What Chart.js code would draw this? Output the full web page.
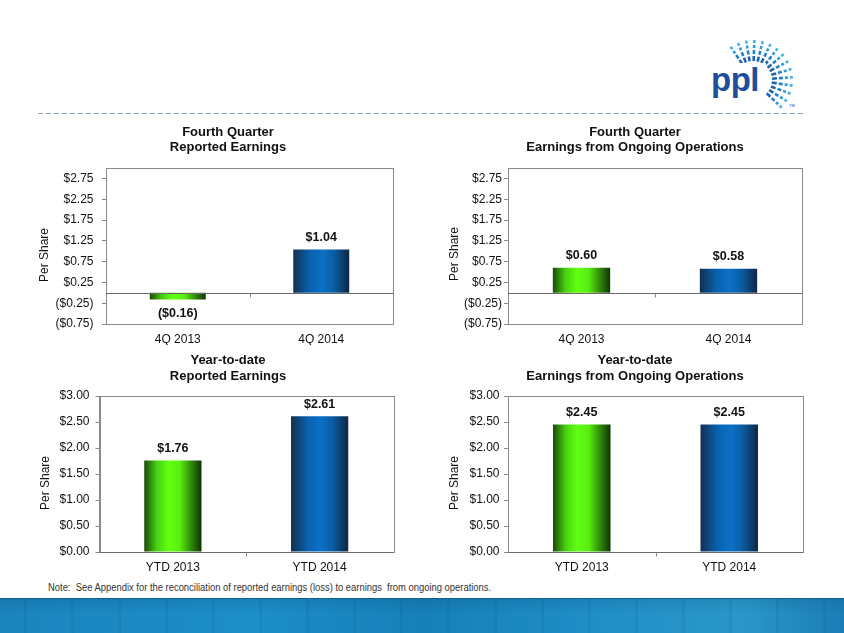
<!DOCTYPE html>
<html><head><meta charset="utf-8">
<script src="https://cdn.jsdelivr.net/npm/chart.js@4.4.1/dist/chart.umd.min.js"></script>
<style>
body{margin:0;width:844px;height:633px;overflow:hidden;background:#fff;position:relative;font-family:"Liberation Sans",Arial,sans-serif}
.box{position:absolute}
#sep{position:absolute;left:38px;top:113px;width:767px;height:1px;background:repeating-linear-gradient(90deg,#8fa3ba 0 5px,rgba(255,255,255,0) 5px 8px)}
#note{position:absolute;left:48px;top:582px;font-size:10px;color:#333;white-space:pre;transform-origin:0 0;transform:scaleX(0.94)}
#banner{position:absolute;left:0;top:598px;width:844px;height:35px;border-top:1px solid #0f5f8f;
background:
linear-gradient(180deg,rgba(0,40,80,0.12) 0,rgba(0,0,0,0) 40%),
repeating-linear-gradient(90deg,rgba(255,255,255,0) 0 24px,rgba(10,70,120,0.10) 24px 27px,rgba(255,255,255,0) 27px 47px),
linear-gradient(90deg,#1b84bd 0%,#1c8ec8 30%,#167fb8 50%,#1f8ec6 70%,#2a97c9 88%,#1b7db6 100%)}
</style></head><body>
<svg class="box" style="left:700px;top:35px" width="110" height="78" id="logo"></svg>
<div id="sep"></div>
<div class="box" style="left:20px;top:120px;width:416px;height:225px"><canvas id="c1"></canvas></div>
<div class="box" style="left:428px;top:120px;width:414px;height:225px"><canvas id="c2"></canvas></div>
<div class="box" style="left:20px;top:350px;width:416px;height:225px"><canvas id="c3"></canvas></div>
<div class="box" style="left:428px;top:350px;width:414px;height:225px"><canvas id="c4"></canvas></div>
<div id="note">Note:  See Appendix for the reconciliation of reported earnings (loss) to earnings  from ongoing operations.</div>
<div id="banner"></div>
<script>
// ---- data ----
const quarterLabels = ['4Q 2013', '4Q 2014'];
const ytdLabels = ['YTD 2013', 'YTD 2014'];
const q4Reported = [-0.16, 1.04];
const q4Ongoing = [0.60, 0.58];
const ytdReported = [1.76, 2.61];
const ytdOngoing = [2.45, 2.45];
const quarterTicks = [-0.75, -0.25, 0.25, 0.75, 1.25, 1.75, 2.25, 2.75];
const ytdTicks = [0, 0.5, 1.0, 1.5, 2.0, 2.5, 3.0];
const quarterRange = [-0.75, 3.0];
const ytdRange = [0, 3.0];
const titleQ4Rep = ['Fourth Quarter', 'Reported Earnings'];
const titleQ4Ong = ['Fourth Quarter', 'Earnings from Ongoing Operations'];
const titleYtdRep = ['Year-to-date', 'Reported Earnings'];
const titleYtdOng = ['Year-to-date', 'Earnings from Ongoing Operations'];
const yAxisTitle = 'Per Share';

// ---- logo ----
(function(){
  const svg = document.getElementById('logo');
  let s = '';
  const cx = 53, cy = 45;
  const n = 15;
  for (let i = 0; i < n; i++) {
    const a = (-124 + i * (168 / (n - 1))) * Math.PI / 180;
    const segs = [[19,24,'#1f64ad'],[26,30,'#2480c6'],[32,35,'#2f9bd9'],[37,40,'#46b2e6']];
    segs.forEach(([r1,r2,c]) => {
      s += `<line x1="${(cx+r1*Math.cos(a)).toFixed(1)}" y1="${(cy+r1*Math.sin(a)).toFixed(1)}" x2="${(cx+r2*Math.cos(a)).toFixed(1)}" y2="${(cy+r2*Math.sin(a)).toFixed(1)}" stroke="${c}" stroke-width="2.6"/>`;
    });
  }
  s += `<rect x="8" y="28" width="58" height="40" fill="#fff"/>`;
  s += `<text x="11" y="56" font-family="Liberation Sans, Arial" font-weight="bold" font-size="33" fill="#1f4f9c" letter-spacing="-0.5">ppl</text>`;
  s += `<text x="89" y="72" font-family="Liberation Sans, Arial" font-size="4" fill="#1f4f9c">TM</text>`;
  svg.innerHTML = s;
})();

// ---- charts ----
const fmt = v => v < 0 ? '($' + Math.abs(v).toFixed(2) + ')' : '$' + v.toFixed(2);

function gradFor(ctx2d, x0, x1, idx) {
  const g = ctx2d.createLinearGradient(x0, 0, x1, 0);
  if (idx === 0) {
    g.addColorStop(0, '#1a4a08'); g.addColorStop(0.22, '#48d012'); g.addColorStop(0.42, '#62ff12');
    g.addColorStop(0.62, '#58ee10'); g.addColorStop(0.85, '#2b7a0a'); g.addColorStop(1, '#0e3504');
  } else {
    g.addColorStop(0, '#12304f'); g.addColorStop(0.3, '#0a62b0'); g.addColorStop(0.52, '#0b70c6');
    g.addColorStop(0.72, '#0a5ea6'); g.addColorStop(1, '#0f2643');
  }
  return g;
}

const panels = [
  {id:'c1', left:20, top:120, w:416, h:225, area:[106,393,168,324], title:titleQ4Rep, labels:quarterLabels, values:q4Reported, ticks:quarterTicks, range:quarterRange, tickPad:8.5, yTitle:[45,255], titleY:[132,147], titleX:228},
  {id:'c2', left:428, top:120, w:414, h:225, area:[508,802,168,324], title:titleQ4Ong, labels:quarterLabels, values:q4Ongoing, ticks:quarterTicks, range:quarterRange, tickPad:2, yTitle:[455,254], titleY:[132,147], titleX:635},
  {id:'c3', left:20, top:350, w:416, h:225, area:[99.5,393,396,552], title:titleYtdRep, labels:ytdLabels, values:ytdReported, ticks:ytdTicks, range:ytdRange, tickPad:6, yTitle:[45.5,483], titleY:[360,376], titleX:228},
  {id:'c4', left:428, top:350, w:414, h:225, area:[508,803,396,552], title:titleYtdOng, labels:ytdLabels, values:ytdOngoing, ticks:ytdTicks, range:ytdRange, tickPad:4.5, yTitle:[455,483], titleY:[360,376], titleX:635}
];

const FONT = "'Liberation Sans', Arial, sans-serif";

panels.forEach(p => {
  const [aL, aR, aT, aB] = p.area;
  const decor = {
    id: 'decor',
    afterDatasetsDraw(chart) {
      const c = chart.ctx, ca = chart.chartArea;
      c.save();
      c.strokeStyle = '#8a8a8a'; c.lineWidth = 1;
      c.strokeRect(Math.round(ca.left) + 0.5, Math.round(ca.top) + 0.5, Math.round(ca.right - ca.left), Math.round(ca.bottom - ca.top));
      const y0 = Math.round(chart.scales.y.getPixelForValue(0)) + 0.5;
      c.strokeStyle = '#6a6a6a';
      c.beginPath(); c.moveTo(ca.left, y0); c.lineTo(ca.right, y0); c.stroke();
      const mx = Math.round((ca.left + ca.right) / 2) + 0.5;
      c.strokeStyle = '#8a8a8a';
      c.beginPath(); c.moveTo(mx, y0); c.lineTo(mx, y0 + 4); c.stroke();
      c.fillStyle = '#111'; c.font = 'bold 12.5px ' + FONT; c.textAlign = 'center'; c.textBaseline = 'middle';
      const meta = chart.getDatasetMeta(0);
      meta.data.forEach((el, i) => {
        const v = p.values[i];
        const ty = v < 0 ? el.y + 14 : el.y - 12;
        c.fillText(fmt(v), el.x, ty);
      });
      c.font = 'bold 13px ' + FONT;
      p.title.forEach((t, i) => c.fillText(t, p.titleX - p.left, p.titleY[i] - p.top));
      c.font = '12px ' + FONT;
      c.translate(p.yTitle[0] - p.left, p.yTitle[1] - p.top);
      c.rotate(-Math.PI / 2);
      c.fillText(yAxisTitle, 0, 0);
      c.restore();
    }
  };
  new Chart(document.getElementById(p.id), {
    type: 'bar',
    data: {
      labels: p.labels,
      datasets: [{
        data: p.values,
        backgroundColor: (ctx) => {
          const ch = ctx.chart;
          if (!ch.chartArea) return '#888';
          const xs = ch.scales.x;
          const cx = xs.getPixelForValue(ctx.dataIndex);
          const bw = (xs.width / p.labels.length) * 0.39;
          return gradFor(ch.ctx, cx - bw / 2, cx + bw / 2, ctx.dataIndex);
        },
        borderWidth: 0,
        barPercentage: 0.39,
        categoryPercentage: 1
      }]
    },
    options: {
      responsive: true, maintainAspectRatio: false, animation: false,
      layout: { padding: { left: 0, right: (p.left + p.w) - aR, top: aT - p.top, bottom: 0 } },
      plugins: { legend: { display: false }, tooltip: { enabled: false }, title: { display: false } },
      scales: {
        x: {
          grid: { display: false },
          border: { display: false },
          ticks: { color: '#111', font: { family: FONT, size: 12 }, padding: 0, maxRotation: 0 },
          afterFit: (s) => { s.height = (p.top + p.h) - aB; }
        },
        y: {
          min: p.range[0], max: p.range[1],
          grid: { display: true, drawOnChartArea: false, drawTicks: true, tickLength: 4, color: '#8a8a8a' },
          border: { display: true, color: '#8a8a8a' },
          ticks: { color: '#111', font: { family: FONT, size: 12 }, padding: p.tickPad, callback: (v) => fmt(v) },
          afterBuildTicks: (s) => { s.ticks = p.ticks.map(v => ({ value: v })); },
          afterFit: (s) => { s.width = aL - p.left; s.paddingTop = 0; s.paddingBottom = 0; }
        }
      }
    },
    plugins: [decor]
  });
});
</script>
</body></html>
